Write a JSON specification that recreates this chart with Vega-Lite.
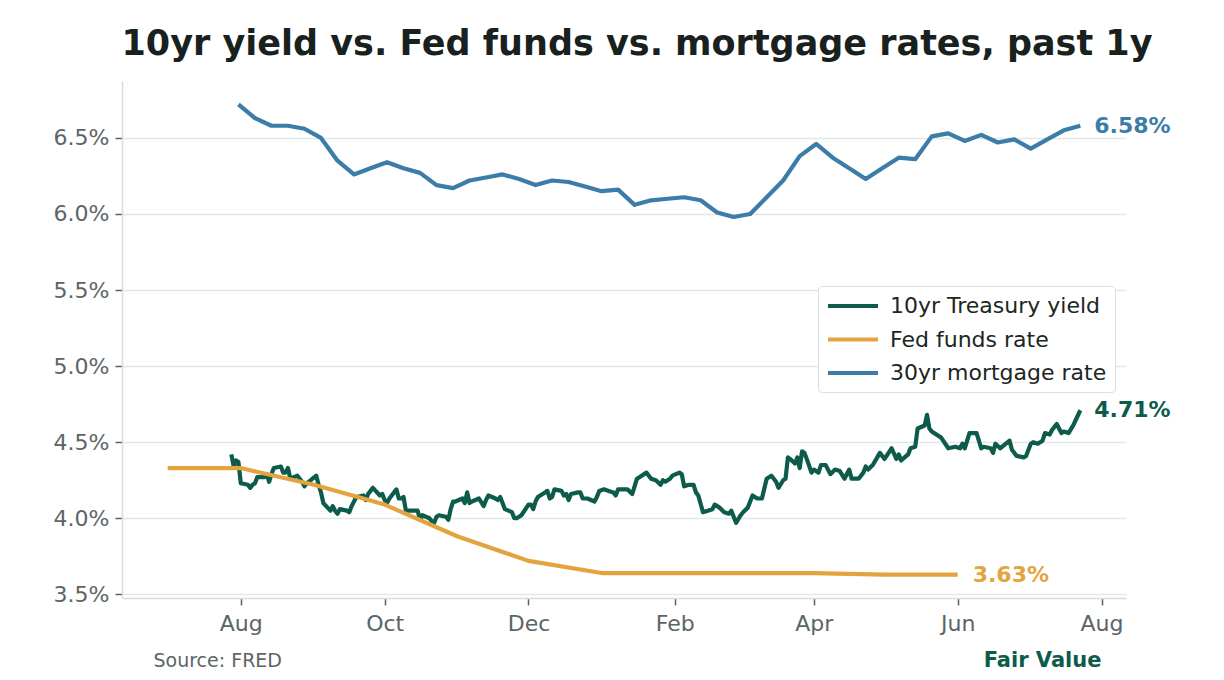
{
  "$schema": "https://vega.github.io/schema/vega-lite/v6.json",
  "width": 1004,
  "height": 517,
  "autosize": {"type": "none"},
  "padding": {"left": 122, "top": 81, "right": 98, "bottom": 82},
  "background": "white",
  "config": {
    "font": "DejaVu Sans",
    "view": {"stroke": null},
    "axis": {
      "domainColor": "#d6dbdb",
      "domainWidth": 1.5,
      "tickColor": "#5b6565",
      "tickWidth": 1.5,
      "tickSize": 7,
      "labelColor": "#5b6565",
      "labelFontSize": 22,
      "labelFont": "DejaVu Sans",
      "gridColor": "#e4e7e7",
      "gridWidth": 1.3
    }
  },
  "title": {
    "text": "10yr yield vs. Fed funds vs. mortgage rates, past 1y",
    "fontSize": 35,
    "fontWeight": "bold",
    "color": "#18211e",
    "anchor": "middle",
    "frame": "group",
    "dx": 13,
    "offset": -9,
    "baseline": "alphabetic"
  },
  "datasets": {
    "treasury10y": [
      {"d": "2025-07-28", "v": 4.42}, {"d": "2025-07-29", "v": 4.34}, {"d": "2025-07-30", "v": 4.38}, {"d": "2025-07-31", "v": 4.37},
      {"d": "2025-08-01", "v": 4.23}, {"d": "2025-08-04", "v": 4.22}, {"d": "2025-08-05", "v": 4.20}, {"d": "2025-08-06", "v": 4.22},
      {"d": "2025-08-07", "v": 4.23}, {"d": "2025-08-08", "v": 4.27}, {"d": "2025-08-11", "v": 4.27}, {"d": "2025-08-12", "v": 4.29},
      {"d": "2025-08-13", "v": 4.24}, {"d": "2025-08-14", "v": 4.29}, {"d": "2025-08-15", "v": 4.33}, {"d": "2025-08-18", "v": 4.34},
      {"d": "2025-08-19", "v": 4.30}, {"d": "2025-08-20", "v": 4.30}, {"d": "2025-08-21", "v": 4.33}, {"d": "2025-08-22", "v": 4.26},
      {"d": "2025-08-25", "v": 4.28}, {"d": "2025-08-26", "v": 4.26}, {"d": "2025-08-27", "v": 4.24}, {"d": "2025-08-28", "v": 4.21},
      {"d": "2025-08-29", "v": 4.23}, {"d": "2025-09-02", "v": 4.28}, {"d": "2025-09-03", "v": 4.22}, {"d": "2025-09-04", "v": 4.17},
      {"d": "2025-09-05", "v": 4.10}, {"d": "2025-09-08", "v": 4.05}, {"d": "2025-09-09", "v": 4.08}, {"d": "2025-09-10", "v": 4.05},
      {"d": "2025-09-11", "v": 4.03}, {"d": "2025-09-12", "v": 4.06}, {"d": "2025-09-15", "v": 4.05}, {"d": "2025-09-16", "v": 4.04},
      {"d": "2025-09-17", "v": 4.08}, {"d": "2025-09-18", "v": 4.11}, {"d": "2025-09-19", "v": 4.14}, {"d": "2025-09-22", "v": 4.15},
      {"d": "2025-09-23", "v": 4.12}, {"d": "2025-09-24", "v": 4.16}, {"d": "2025-09-25", "v": 4.18}, {"d": "2025-09-26", "v": 4.20},
      {"d": "2025-09-29", "v": 4.15}, {"d": "2025-09-30", "v": 4.16}, {"d": "2025-10-01", "v": 4.12}, {"d": "2025-10-02", "v": 4.10},
      {"d": "2025-10-03", "v": 4.13}, {"d": "2025-10-06", "v": 4.19}, {"d": "2025-10-07", "v": 4.13}, {"d": "2025-10-08", "v": 4.13},
      {"d": "2025-10-09", "v": 4.14}, {"d": "2025-10-10", "v": 4.05}, {"d": "2025-10-14", "v": 4.05}, {"d": "2025-10-15", "v": 4.05},
      {"d": "2025-10-16", "v": 3.99}, {"d": "2025-10-17", "v": 4.02}, {"d": "2025-10-20", "v": 4.00}, {"d": "2025-10-21", "v": 3.98},
      {"d": "2025-10-22", "v": 3.97}, {"d": "2025-10-23", "v": 4.01}, {"d": "2025-10-24", "v": 4.02}, {"d": "2025-10-27", "v": 4.01},
      {"d": "2025-10-28", "v": 3.99}, {"d": "2025-10-29", "v": 4.06}, {"d": "2025-10-30", "v": 4.11}, {"d": "2025-10-31", "v": 4.11},
      {"d": "2025-11-03", "v": 4.13}, {"d": "2025-11-04", "v": 4.10}, {"d": "2025-11-05", "v": 4.17}, {"d": "2025-11-06", "v": 4.10},
      {"d": "2025-11-07", "v": 4.11}, {"d": "2025-11-10", "v": 4.13}, {"d": "2025-11-12", "v": 4.08}, {"d": "2025-11-13", "v": 4.12},
      {"d": "2025-11-14", "v": 4.15}, {"d": "2025-11-17", "v": 4.13}, {"d": "2025-11-18", "v": 4.12}, {"d": "2025-11-19", "v": 4.14},
      {"d": "2025-11-20", "v": 4.10}, {"d": "2025-11-21", "v": 4.06}, {"d": "2025-11-24", "v": 4.04}, {"d": "2025-11-25", "v": 4.00},
      {"d": "2025-11-26", "v": 4.00}, {"d": "2025-11-28", "v": 4.02}, {"d": "2025-12-01", "v": 4.09}, {"d": "2025-12-02", "v": 4.09},
      {"d": "2025-12-03", "v": 4.06}, {"d": "2025-12-04", "v": 4.11}, {"d": "2025-12-05", "v": 4.14}, {"d": "2025-12-08", "v": 4.17},
      {"d": "2025-12-09", "v": 4.18}, {"d": "2025-12-10", "v": 4.13}, {"d": "2025-12-11", "v": 4.14}, {"d": "2025-12-12", "v": 4.19},
      {"d": "2025-12-15", "v": 4.18}, {"d": "2025-12-16", "v": 4.15}, {"d": "2025-12-17", "v": 4.16}, {"d": "2025-12-18", "v": 4.12},
      {"d": "2025-12-19", "v": 4.16}, {"d": "2025-12-22", "v": 4.17}, {"d": "2025-12-23", "v": 4.17}, {"d": "2025-12-24", "v": 4.13},
      {"d": "2025-12-26", "v": 4.13}, {"d": "2025-12-29", "v": 4.11}, {"d": "2025-12-30", "v": 4.14}, {"d": "2025-12-31", "v": 4.18},
      {"d": "2026-01-02", "v": 4.19}, {"d": "2026-01-04", "v": 4.18}, {"d": "2026-01-06", "v": 4.17}, {"d": "2026-01-07", "v": 4.15},
      {"d": "2026-01-08", "v": 4.19}, {"d": "2026-01-10", "v": 4.19}, {"d": "2026-01-12", "v": 4.19}, {"d": "2026-01-14", "v": 4.16},
      {"d": "2026-01-16", "v": 4.26}, {"d": "2026-01-18", "v": 4.28}, {"d": "2026-01-20", "v": 4.30}, {"d": "2026-01-22", "v": 4.26},
      {"d": "2026-01-24", "v": 4.25}, {"d": "2026-01-26", "v": 4.22}, {"d": "2026-01-27", "v": 4.25}, {"d": "2026-01-28", "v": 4.24},
      {"d": "2026-01-30", "v": 4.26}, {"d": "2026-01-31", "v": 4.28}, {"d": "2026-02-03", "v": 4.30}, {"d": "2026-02-04", "v": 4.29},
      {"d": "2026-02-05", "v": 4.21}, {"d": "2026-02-07", "v": 4.22}, {"d": "2026-02-09", "v": 4.22}, {"d": "2026-02-10", "v": 4.17},
      {"d": "2026-02-11", "v": 4.15}, {"d": "2026-02-13", "v": 4.04}, {"d": "2026-02-15", "v": 4.05}, {"d": "2026-02-17", "v": 4.06},
      {"d": "2026-02-18", "v": 4.09}, {"d": "2026-02-20", "v": 4.07}, {"d": "2026-02-22", "v": 4.04}, {"d": "2026-02-24", "v": 4.03},
      {"d": "2026-02-25", "v": 4.05}, {"d": "2026-02-27", "v": 3.97}, {"d": "2026-03-01", "v": 4.02}, {"d": "2026-03-02", "v": 4.04},
      {"d": "2026-03-04", "v": 4.07}, {"d": "2026-03-06", "v": 4.15}, {"d": "2026-03-08", "v": 4.13}, {"d": "2026-03-10", "v": 4.13},
      {"d": "2026-03-12", "v": 4.26}, {"d": "2026-03-14", "v": 4.28}, {"d": "2026-03-16", "v": 4.24}, {"d": "2026-03-17", "v": 4.20},
      {"d": "2026-03-19", "v": 4.25}, {"d": "2026-03-20", "v": 4.26}, {"d": "2026-03-21", "v": 4.40}, {"d": "2026-03-22", "v": 4.39},
      {"d": "2026-03-24", "v": 4.36}, {"d": "2026-03-25", "v": 4.40}, {"d": "2026-03-26", "v": 4.33}, {"d": "2026-03-27", "v": 4.44},
      {"d": "2026-03-28", "v": 4.43}, {"d": "2026-03-29", "v": 4.39}, {"d": "2026-03-31", "v": 4.30}, {"d": "2026-04-01", "v": 4.32},
      {"d": "2026-04-03", "v": 4.30}, {"d": "2026-04-04", "v": 4.35}, {"d": "2026-04-06", "v": 4.35}, {"d": "2026-04-08", "v": 4.29},
      {"d": "2026-04-10", "v": 4.32}, {"d": "2026-04-12", "v": 4.31}, {"d": "2026-04-14", "v": 4.26}, {"d": "2026-04-16", "v": 4.32},
      {"d": "2026-04-17", "v": 4.26}, {"d": "2026-04-20", "v": 4.26}, {"d": "2026-04-22", "v": 4.30}, {"d": "2026-04-23", "v": 4.34},
      {"d": "2026-04-24", "v": 4.32}, {"d": "2026-04-26", "v": 4.35}, {"d": "2026-04-29", "v": 4.43}, {"d": "2026-05-01", "v": 4.39},
      {"d": "2026-05-04", "v": 4.46}, {"d": "2026-05-06", "v": 4.39}, {"d": "2026-05-07", "v": 4.42}, {"d": "2026-05-08", "v": 4.38},
      {"d": "2026-05-11", "v": 4.42}, {"d": "2026-05-12", "v": 4.46}, {"d": "2026-05-14", "v": 4.47}, {"d": "2026-05-15", "v": 4.59},
      {"d": "2026-05-18", "v": 4.61}, {"d": "2026-05-19", "v": 4.68}, {"d": "2026-05-20", "v": 4.59}, {"d": "2026-05-21", "v": 4.57},
      {"d": "2026-05-25", "v": 4.53}, {"d": "2026-05-28", "v": 4.46}, {"d": "2026-05-31", "v": 4.47}, {"d": "2026-06-02", "v": 4.46},
      {"d": "2026-06-03", "v": 4.49}, {"d": "2026-06-04", "v": 4.46}, {"d": "2026-06-06", "v": 4.56}, {"d": "2026-06-07", "v": 4.56},
      {"d": "2026-06-09", "v": 4.56}, {"d": "2026-06-11", "v": 4.46}, {"d": "2026-06-12", "v": 4.47}, {"d": "2026-06-15", "v": 4.46},
      {"d": "2026-06-16", "v": 4.43}, {"d": "2026-06-17", "v": 4.49}, {"d": "2026-06-19", "v": 4.46}, {"d": "2026-06-23", "v": 4.51},
      {"d": "2026-06-24", "v": 4.45}, {"d": "2026-06-26", "v": 4.41}, {"d": "2026-06-29", "v": 4.40}, {"d": "2026-06-30", "v": 4.41},
      {"d": "2026-07-02", "v": 4.49}, {"d": "2026-07-03", "v": 4.50}, {"d": "2026-07-05", "v": 4.49}, {"d": "2026-07-07", "v": 4.51},
      {"d": "2026-07-08", "v": 4.56}, {"d": "2026-07-10", "v": 4.55}, {"d": "2026-07-11", "v": 4.58}, {"d": "2026-07-13", "v": 4.62},
      {"d": "2026-07-15", "v": 4.56}, {"d": "2026-07-16", "v": 4.57}, {"d": "2026-07-18", "v": 4.56}, {"d": "2026-07-20", "v": 4.61},
      {"d": "2026-07-23", "v": 4.71}
    ],
    "fedFunds": [
      {"d": "2025-07-01", "v": 4.33}, {"d": "2025-08-01", "v": 4.33}, {"d": "2025-09-01", "v": 4.22}, {"d": "2025-10-01", "v": 4.09},
      {"d": "2025-11-01", "v": 3.88}, {"d": "2025-12-01", "v": 3.72}, {"d": "2026-01-01", "v": 3.64}, {"d": "2026-02-01", "v": 3.64},
      {"d": "2026-03-01", "v": 3.64}, {"d": "2026-04-01", "v": 3.64}, {"d": "2026-05-01", "v": 3.63}, {"d": "2026-06-01", "v": 3.63}
    ],
    "mortgage30y": [
      {"d": "2025-07-31", "v": 6.72}, {"d": "2025-08-07", "v": 6.63}, {"d": "2025-08-14", "v": 6.58}, {"d": "2025-08-21", "v": 6.58},
      {"d": "2025-08-28", "v": 6.56}, {"d": "2025-09-04", "v": 6.50}, {"d": "2025-09-11", "v": 6.35}, {"d": "2025-09-18", "v": 6.26},
      {"d": "2025-09-25", "v": 6.30}, {"d": "2025-10-02", "v": 6.34}, {"d": "2025-10-09", "v": 6.30}, {"d": "2025-10-16", "v": 6.27},
      {"d": "2025-10-23", "v": 6.19}, {"d": "2025-10-30", "v": 6.17}, {"d": "2025-11-06", "v": 6.22}, {"d": "2025-11-13", "v": 6.24},
      {"d": "2025-11-20", "v": 6.26}, {"d": "2025-11-27", "v": 6.23}, {"d": "2025-12-04", "v": 6.19}, {"d": "2025-12-11", "v": 6.22},
      {"d": "2025-12-18", "v": 6.21}, {"d": "2025-12-25", "v": 6.18}, {"d": "2026-01-01", "v": 6.15}, {"d": "2026-01-08", "v": 6.16},
      {"d": "2026-01-15", "v": 6.06}, {"d": "2026-01-22", "v": 6.09}, {"d": "2026-01-29", "v": 6.10}, {"d": "2026-02-05", "v": 6.11},
      {"d": "2026-02-12", "v": 6.09}, {"d": "2026-02-19", "v": 6.01}, {"d": "2026-02-26", "v": 5.98}, {"d": "2026-03-05", "v": 6.00},
      {"d": "2026-03-12", "v": 6.11}, {"d": "2026-03-19", "v": 6.22}, {"d": "2026-03-26", "v": 6.38}, {"d": "2026-04-02", "v": 6.46},
      {"d": "2026-04-09", "v": 6.37}, {"d": "2026-04-16", "v": 6.30}, {"d": "2026-04-23", "v": 6.23}, {"d": "2026-04-30", "v": 6.30},
      {"d": "2026-05-07", "v": 6.37}, {"d": "2026-05-14", "v": 6.36}, {"d": "2026-05-21", "v": 6.51}, {"d": "2026-05-28", "v": 6.53},
      {"d": "2026-06-04", "v": 6.48}, {"d": "2026-06-11", "v": 6.52}, {"d": "2026-06-18", "v": 6.47}, {"d": "2026-06-25", "v": 6.49},
      {"d": "2026-07-02", "v": 6.43}, {"d": "2026-07-09", "v": 6.49}, {"d": "2026-07-16", "v": 6.55}, {"d": "2026-07-23", "v": 6.58}
    ]
  },
  "encoding": {
    "x": {
      "field": "d",
      "type": "temporal",
      "scale": {
        "type": "utc",
        "domain": [
          {"year": 2025, "month": 6, "date": 11, "hours": 15, "utc": true},
          {"year": 2026, "month": 8, "date": 11, "hours": 9, "utc": true}
        ]
      },
      "axis": {
        "values": [
          {"year": 2025, "month": 8, "date": 1, "utc": true},
          {"year": 2025, "month": 10, "date": 1, "utc": true},
          {"year": 2025, "month": 12, "date": 1, "utc": true},
          {"year": 2026, "month": 2, "date": 1, "utc": true},
          {"year": 2026, "month": 4, "date": 1, "utc": true},
          {"year": 2026, "month": 6, "date": 1, "utc": true},
          {"year": 2026, "month": 8, "date": 1, "utc": true}
        ],
        "labelExpr": "utcFormat(datum.value, '%b')",
        "grid": false,
        "labelPadding": 8,
        "title": "Source: FRED",
        "titleX": 31,
        "titleY": 68,
        "titleAlign": "left",
        "titleAnchor": "start",
        "titleBaseline": "alphabetic",
        "titleFontSize": 19,
        "titleFontWeight": "normal",
        "titleColor": "#5b6565"
      }
    },
    "y": {
      "field": "v",
      "type": "quantitative",
      "scale": {"domain": [3.476, 6.874], "nice": false, "zero": false},
      "axis": {
        "values": [3.5, 4, 4.5, 5, 5.5, 6, 6.5],
        "labelExpr": "format(datum.value, '.1f') + '%'",
        "grid": true,
        "labelPadding": 6,
        "title": "Fair Value",
        "titleAngle": 0,
        "titleX": 979,
        "titleY": 585,
        "titleAlign": "right",
        "titleBaseline": "alphabetic",
        "titleFontSize": 21,
        "titleFontWeight": "bold",
        "titleColor": "#0d5c4b"
      }
    }
  },
  "layer": [
    {
      "data": {"name": "treasury10y"},
      "mark": {"type": "line", "strokeWidth": 4.2, "strokeJoin": "round"},
      "encoding": {
        "color": {
          "datum": "10yr Treasury yield",
          "type": "nominal",
          "scale": {
            "domain": ["10yr Treasury yield", "Fed funds rate", "30yr mortgage rate"],
            "range": ["#0d5c4b", "#e3a43d", "#3b7da8"]
          },
          "legend": {
            "title": null,
            "orient": "none",
            "legendX": 696,
            "legendY": 205,
            "direction": "vertical",
            "symbolType": "M-1,0H4",
            "symbolSize": 400,
            "symbolStrokeWidth": 4,
            "labelFontSize": 22,
            "labelColor": "#1c2623",
            "labelLimit": 400,
            "labelOffset": 40,
            "padding": 8,
            "rowPadding": 10.5,
            "fillColor": "white",
            "strokeColor": "#dcdfdf",
            "cornerRadius": 4
          }
        }
      }
    },
    {
      "data": {"name": "fedFunds"},
      "mark": {"type": "line", "strokeWidth": 4.2, "strokeJoin": "round"},
      "encoding": {"color": {"datum": "Fed funds rate", "type": "nominal"}}
    },
    {
      "data": {"name": "mortgage30y"},
      "mark": {"type": "line", "strokeWidth": 4.2, "strokeJoin": "round"},
      "encoding": {"color": {"datum": "30yr mortgage rate", "type": "nominal"}}
    },
    {
      "data": {"name": "treasury10y"},
      "transform": [
        {"window": [{"op": "row_number", "as": "rn"}], "sort": [{"field": "d", "order": "descending"}]},
        {"filter": "datum.rn === 1"},
        {"calculate": "format(datum.v, '.2f') + '%'", "as": "label"}
      ],
      "mark": {"type": "text", "align": "left", "baseline": "middle", "dx": 14, "fontSize": 22, "fontWeight": "bold", "color": "#0d5c4b"},
      "encoding": {"text": {"field": "label"}}
    },
    {
      "data": {"name": "fedFunds"},
      "transform": [
        {"window": [{"op": "row_number", "as": "rn"}], "sort": [{"field": "d", "order": "descending"}]},
        {"filter": "datum.rn === 1"},
        {"calculate": "format(datum.v, '.2f') + '%'", "as": "label"}
      ],
      "mark": {"type": "text", "align": "left", "baseline": "middle", "dx": 15, "fontSize": 22, "fontWeight": "bold", "color": "#e3a43d"},
      "encoding": {"text": {"field": "label"}}
    },
    {
      "data": {"name": "mortgage30y"},
      "transform": [
        {"window": [{"op": "row_number", "as": "rn"}], "sort": [{"field": "d", "order": "descending"}]},
        {"filter": "datum.rn === 1"},
        {"calculate": "format(datum.v, '.2f') + '%'", "as": "label"}
      ],
      "mark": {"type": "text", "align": "left", "baseline": "middle", "dx": 14, "fontSize": 22, "fontWeight": "bold", "color": "#3b7da8"},
      "encoding": {"text": {"field": "label"}}
    }
  ]
}
